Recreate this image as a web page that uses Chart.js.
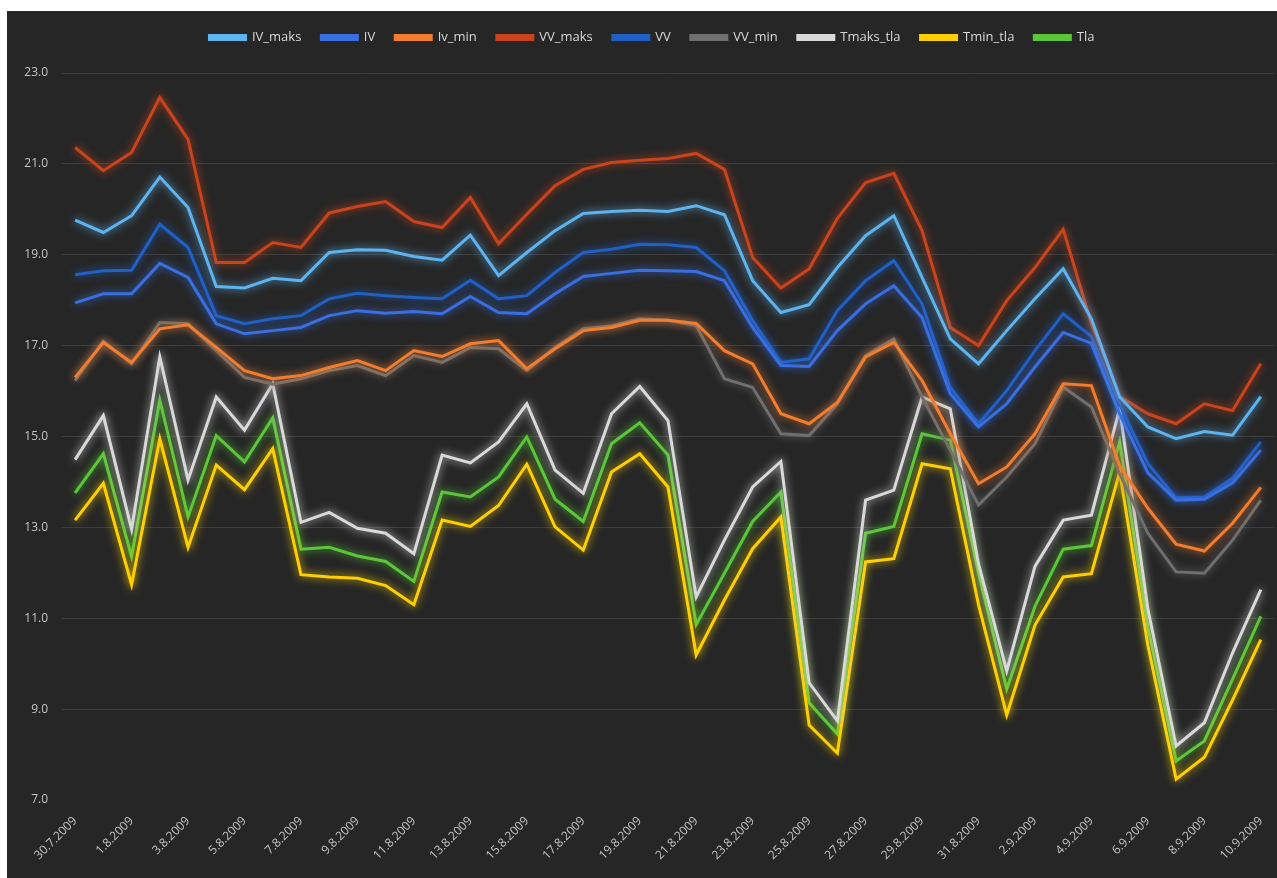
<!DOCTYPE html>
<html lang="sl">
<head>
<meta charset="utf-8"/>
<title>Temperature</title>
<script src="https://cdn.jsdelivr.net/npm/chart.js"></script>
<style>
  body {
    margin: 0;
    background: #ffffff;
  }
  #wrap {
    position: absolute;
    left: 7px;
    top: 11px;
    width: 1270px;
    height: 867px;
    background: #262626;
  }
</style>
</head>
<body>
<div id="wrap"><canvas id="graf"></canvas></div>

<script>
  const dates = ['30.7.2009','31.7.2009','1.8.2009','2.8.2009','3.8.2009','4.8.2009','5.8.2009','6.8.2009',
    '7.8.2009','8.8.2009','9.8.2009','10.8.2009','11.8.2009','12.8.2009','13.8.2009','14.8.2009','15.8.2009',
    '16.8.2009','17.8.2009','18.8.2009','19.8.2009','20.8.2009','21.8.2009','22.8.2009','23.8.2009','24.8.2009',
    '25.8.2009','26.8.2009','27.8.2009','28.8.2009','29.8.2009','30.8.2009','31.8.2009','1.9.2009','2.9.2009',
    '3.9.2009','4.9.2009','5.9.2009','6.9.2009','7.9.2009','8.9.2009','9.9.2009','10.9.2009'];

  const ivMaks = [19.76,19.49,19.86,20.71,20.04,18.30,18.27,18.48,18.43,19.05,19.11,19.10,18.96,18.88,19.43,18.54,19.05,19.53,19.91,19.95,19.98,19.95,20.08,19.88,18.43,17.73,17.90,18.72,19.42,19.86,18.50,17.15,16.60,17.33,18.03,18.69,17.59,15.87,15.21,14.95,15.11,15.03,15.88];
  const iv = [17.94,18.14,18.14,18.81,18.50,17.48,17.26,17.33,17.40,17.66,17.77,17.71,17.75,17.70,18.08,17.73,17.70,18.14,18.52,18.59,18.66,18.65,18.63,18.43,17.40,16.56,16.54,17.33,17.92,18.32,17.62,15.94,15.21,15.72,16.53,17.29,17.05,15.50,14.20,13.60,13.62,13.98,14.70];
  const ivMin = [16.30,17.07,16.63,17.37,17.46,16.96,16.45,16.27,16.34,16.52,16.67,16.45,16.89,16.76,17.04,17.11,16.49,16.93,17.33,17.40,17.56,17.56,17.49,16.89,16.60,15.50,15.28,15.75,16.75,17.07,16.23,15.06,13.96,14.33,15.06,16.16,16.12,14.35,13.42,12.63,12.48,13.09,13.88];
  const vvMaks = [21.36,20.85,21.25,22.46,21.54,18.83,18.83,19.27,19.16,19.92,20.06,20.17,19.73,19.60,20.26,19.24,19.89,20.52,20.88,21.03,21.08,21.12,21.23,20.88,18.94,18.27,18.69,19.80,20.59,20.79,19.53,17.40,17.00,17.99,18.72,19.56,17.48,15.88,15.50,15.28,15.72,15.57,16.60];
  const vv = [18.56,18.65,18.66,19.67,19.16,17.66,17.48,17.59,17.66,18.03,18.15,18.10,18.06,18.03,18.44,18.03,18.10,18.61,19.05,19.12,19.23,19.22,19.16,18.65,17.55,16.63,16.71,17.77,18.43,18.87,17.92,16.08,15.28,16.01,16.89,17.70,17.20,15.70,14.40,13.65,13.67,14.08,14.88];
  const vvMin = [16.23,17.10,16.60,17.51,17.48,16.89,16.30,16.15,16.27,16.45,16.56,16.34,16.78,16.63,16.96,16.93,16.45,16.96,17.37,17.44,17.59,17.56,17.44,16.27,16.08,15.06,15.02,15.72,16.78,17.15,15.87,14.70,13.49,14.11,14.84,16.09,15.65,14.18,12.87,12.02,11.99,12.72,13.60];
  const tmaksTla = [14.49,15.46,12.96,16.75,14.04,15.87,15.14,16.16,13.11,13.33,12.98,12.87,12.42,14.59,14.42,14.88,15.72,14.26,13.75,15.50,16.10,15.35,11.47,12.72,13.89,14.45,9.58,8.74,13.60,13.82,15.87,15.61,12.20,9.84,12.14,13.16,13.27,15.61,11.20,8.19,8.70,10.24,11.63];
  const tminTla = [13.16,13.97,11.74,14.95,12.56,14.37,13.83,14.73,11.96,11.91,11.88,11.72,11.30,13.16,13.02,13.48,14.39,13.01,12.50,14.22,14.62,13.89,10.19,11.40,12.53,13.23,8.65,8.03,12.24,12.31,14.40,14.29,11.30,8.87,10.85,11.91,11.98,14.22,10.40,7.46,7.94,9.20,10.53];
  const tla = [13.76,14.62,12.36,15.80,13.23,15.02,14.44,15.41,12.52,12.56,12.37,12.25,11.81,13.78,13.67,14.11,14.99,13.62,13.13,14.84,15.30,14.59,10.86,11.99,13.13,13.78,9.14,8.45,12.87,13.02,15.06,14.92,12.00,9.44,11.26,12.52,12.60,14.88,10.80,7.86,8.30,9.66,11.04];

  Chart.defaults.font.family = "'Open Sans', sans-serif";

  function serija(label, data, color) {
    return { label, data, borderColor: color, backgroundColor: color, borderWidth: 3, pointRadius: 0, tension: 0, fill: false };
  }

  // svetleči rob okrog črt
  const sij = {
    id: 'sij',
    beforeDatasetDraw(chart, args) {
      const ds = chart.data.datasets[args.index];
      chart.ctx.save();
      chart.ctx.shadowColor = ds.borderColor;
      chart.ctx.shadowBlur = 9;
    },
    afterDatasetDraw(chart) {
      chart.ctx.restore();
    }
  };

  // več prostora med legendo in grafom, legenda malo desno
  const legendOdmik = {
    id: 'legendOdmik',
    beforeInit(chart) {
      const fit = chart.legend.fit;
      chart.legend.fit = function () {
        fit.call(this);
        this.height += 19;
      };
    },
    afterLayout(chart) {
      chart.legend.left += 10;
      chart.legend.right += 10;
    }
  };

  new Chart(document.getElementById('graf'), {
    type: 'line',
    data: {
      labels: dates,
      datasets: [
        serija('IV_maks', ivMaks, '#5fb4ef'),
        serija('IV', iv, '#3a6fe2'),
        serija('Iv_min', ivMin, '#f27d2e'),
        serija('VV_maks', vvMaks, '#c9441c'),
        serija('VV', vv, '#2160c4'),
        serija('VV_min', vvMin, '#6f6f6f'),
        serija('Tmaks_tla', tmaksTla, '#d9d9d9'),
        serija('Tmin_tla', tminTla, '#ffd000'),
        serija('Tla', tla, '#5cc63a')
      ]
    },
    options: {
      responsive: true,
      maintainAspectRatio: false,
      animation: false,
      layout: { padding: { top: 0, right: 0, bottom: 0, left: 0 } },
      plugins: {
        legend: {
          position: 'top',
          labels: { color: '#d9d9d9', font: { size: 13 }, boxWidth: 36, boxHeight: 4, padding: 20 }
        },
        tooltip: { enabled: false }
      },
      scales: {
        x: {
          offset: true,
          grid: { display: false },
          border: { display: false },
          ticks: {
            color: '#c4c4c4',
            font: { size: 12 },
            maxRotation: 45,
            minRotation: 45,
            autoSkip: false,
            padding: 6,
            callback: (v, i) => i % 2 === 0 ? dates[i] : ''
          },
          afterFit: s => { s.height = 78; }
        },
        y: {
          min: 7,
          max: 23,
          ticks: { stepSize: 2, color: '#c4c4c4', font: { size: 12 }, padding: 13, callback: v => v.toFixed(1) },
          grid: { color: c => c.tick.value === 7 ? 'rgba(0,0,0,0)' : '#3d3d3d', drawTicks: false },
          border: { display: false },
          afterFit: s => { s.width = 54; }
        }
      }
    },
    plugins: [sij, legendOdmik]
  });
</script>
</body>
</html>
